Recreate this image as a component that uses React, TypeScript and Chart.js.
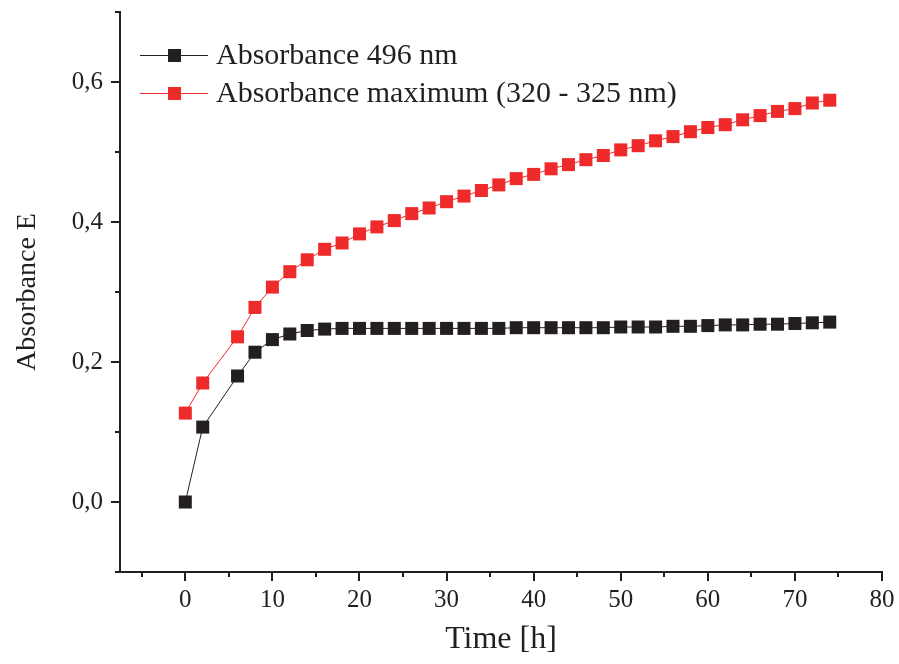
import React, { useEffect, useRef } from 'react';
import { Chart, registerables } from 'chart.js';

Chart.register(...registerables);

const hours = [0, 2, 6, 8, 10, 12, 14, 16, 18, 20, 22, 24, 26, 28, 30, 32, 34, 36, 38, 40, 42, 44, 46, 48, 50, 52, 54, 56, 58, 60, 62, 64, 66, 68, 70, 72, 74];
const abs496 = [0.0, 0.107, 0.180, 0.214, 0.232, 0.240, 0.245, 0.247, 0.248, 0.248, 0.248, 0.248, 0.248, 0.248, 0.248, 0.248, 0.248, 0.248, 0.249, 0.249, 0.249, 0.249, 0.249, 0.249, 0.250, 0.250, 0.250, 0.251, 0.251, 0.252, 0.253, 0.253, 0.254, 0.254, 0.255, 0.256, 0.257];
const absMax = [0.127, 0.170, 0.236, 0.278, 0.307, 0.329, 0.346, 0.361, 0.370, 0.383, 0.393, 0.402, 0.412, 0.420, 0.429, 0.437, 0.445, 0.453, 0.462, 0.468, 0.476, 0.482, 0.489, 0.495, 0.503, 0.509, 0.516, 0.522, 0.529, 0.535, 0.539, 0.546, 0.552, 0.558, 0.562, 0.570, 0.574];

const seriesLabels = ['Absorbance 496 nm', 'Absorbance maximum (320 - 325 nm)'];
const xMajorTicks = [0, 10, 20, 30, 40, 50, 60, 70, 80];
const xMinorTicks = [-5, 5, 15, 25, 35, 45, 55, 65, 75];
const yMajorTicks = [0, 0.2, 0.4, 0.6];
const yMinorTicks = [-0.1, 0.1, 0.3, 0.5, 0.7];
const xTitle = 'Time [h]';
const yTitle = 'Absorbance E';

const INK = '#231F20';
const RED = '#EE2A2A';
const SERIF = "'Liberation Serif', 'Times New Roman', serif";

const zeroPad = (s: any) => {
  s.paddingLeft = 0;
  s.paddingRight = 0;
  s.paddingTop = 0;
  s.paddingBottom = 0;
};

const tickPlugin = {
  id: 'customTicksLegend',
  afterDraw(chart: any) {
    const { ctx, chartArea, scales } = chart;
    const x = scales.x;
    const y = scales.y;
    ctx.save();
    ctx.strokeStyle = INK;
    ctx.lineWidth = 2;
    ctx.beginPath();
    xMajorTicks.forEach((v) => {
      const px = Math.round(x.getPixelForValue(v));
      ctx.moveTo(px, chartArea.bottom);
      ctx.lineTo(px, chartArea.bottom + 9);
    });
    xMinorTicks.forEach((v) => {
      const px = Math.round(x.getPixelForValue(v));
      ctx.moveTo(px, chartArea.bottom);
      ctx.lineTo(px, chartArea.bottom + 5);
    });
    yMajorTicks.forEach((v) => {
      const py = Math.round(y.getPixelForValue(v));
      ctx.moveTo(chartArea.left, py);
      ctx.lineTo(chartArea.left - 9, py);
    });
    yMinorTicks.forEach((v) => {
      const py = Math.round(y.getPixelForValue(v));
      ctx.moveTo(chartArea.left, py);
      ctx.lineTo(chartArea.left - 5, py);
    });
    ctx.stroke();

    // legend
    const rows = [55, 93];
    chart.data.datasets.forEach((ds: any, i: number) => {
      const cy = rows[i];
      ctx.strokeStyle = ds.borderColor;
      ctx.lineWidth = 1;
      ctx.beginPath();
      ctx.moveTo(140, cy + 0.5);
      ctx.lineTo(208, cy + 0.5);
      ctx.stroke();
      ctx.fillStyle = ds.pointBackgroundColor;
      ctx.fillRect(168, cy - 6, 13, 13);
      ctx.fillStyle = INK;
      ctx.font = `30px ${SERIF}`;
      ctx.textAlign = 'left';
      ctx.textBaseline = 'middle';
      ctx.fillText(ds.label, 216, cy + 1);
    });
    ctx.restore();
  },
};

export default function App() {
  const ref = useRef<HTMLCanvasElement | null>(null);

  useEffect(() => {
    document.body.style.margin = '0';
    const canvas = ref.current;
    if (!canvas) return;
    const chart = new Chart(canvas, {
      type: 'line',
      data: {
        datasets: [
          {
            label: seriesLabels[0],
            data: hours.map((h, i) => ({ x: h, y: abs496[i] })),
            borderColor: INK,
            borderWidth: 1,
            pointStyle: 'rect',
            pointRadius: 9.2,
            pointBorderWidth: 0,
            pointBackgroundColor: INK,
            pointBorderColor: INK,
            fill: false,
            tension: 0,
          },
          {
            label: seriesLabels[1],
            data: hours.map((h, i) => ({ x: h, y: absMax[i] })),
            borderColor: RED,
            borderWidth: 1,
            pointStyle: 'rect',
            pointRadius: 9.2,
            pointBorderWidth: 0,
            pointBackgroundColor: RED,
            pointBorderColor: RED,
            fill: false,
            tension: 0,
          },
        ],
      },
      options: {
        animation: false,
        responsive: false,
        maintainAspectRatio: false,
        layout: { padding: { top: 12, right: 17, left: 0, bottom: 0 } },
        plugins: {
          legend: { display: false },
          tooltip: { enabled: false },
        },
        scales: {
          x: {
            type: 'linear',
            min: -7.5,
            max: 80,
            afterFit: (s: any) => { s.height = 92; zeroPad(s); },
            afterBuildTicks: (s: any) => { s.ticks = xMajorTicks.map((v) => ({ value: v })); },
            grid: { display: false, drawTicks: false },
            border: { display: true, color: INK, width: 2 },
            ticks: {
              color: INK,
              font: { family: SERIF, size: 25 },
              padding: 13,
              maxRotation: 0,
              autoSkip: false,
              callback: (v: any) => String(v),
            },
            title: {
              display: true,
              text: xTitle,
              color: INK,
              font: { family: SERIF, size: 32 },
              padding: { top: 0, bottom: 5 },
            },
          },
          y: {
            type: 'linear',
            min: -0.1,
            max: 0.7,
            afterFit: (s: any) => { s.width = 120; zeroPad(s); },
            afterBuildTicks: (s: any) => { s.ticks = yMajorTicks.map((v) => ({ value: v })); },
            grid: { display: false, drawTicks: false },
            border: { display: true, color: INK, width: 2 },
            ticks: {
              color: INK,
              font: { family: SERIF, size: 25 },
              padding: 17,
              autoSkip: false,
              callback: (v: any) => Number(v).toFixed(1).replace('.', ','),
            },
            title: {
              display: true,
              text: yTitle,
              color: INK,
              font: { family: SERIF, size: 28 },
              padding: { top: 11, bottom: 0 },
            },
          },
        },
      },
      plugins: [tickPlugin],
    });
    return () => chart.destroy();
  }, []);

  return (
    <div style={{ width: 899, height: 664, background: '#fff' }}>
      <canvas ref={ref} width={899} height={664} style={{ display: 'block', width: 899, height: 664 }} />
    </div>
  );
}
